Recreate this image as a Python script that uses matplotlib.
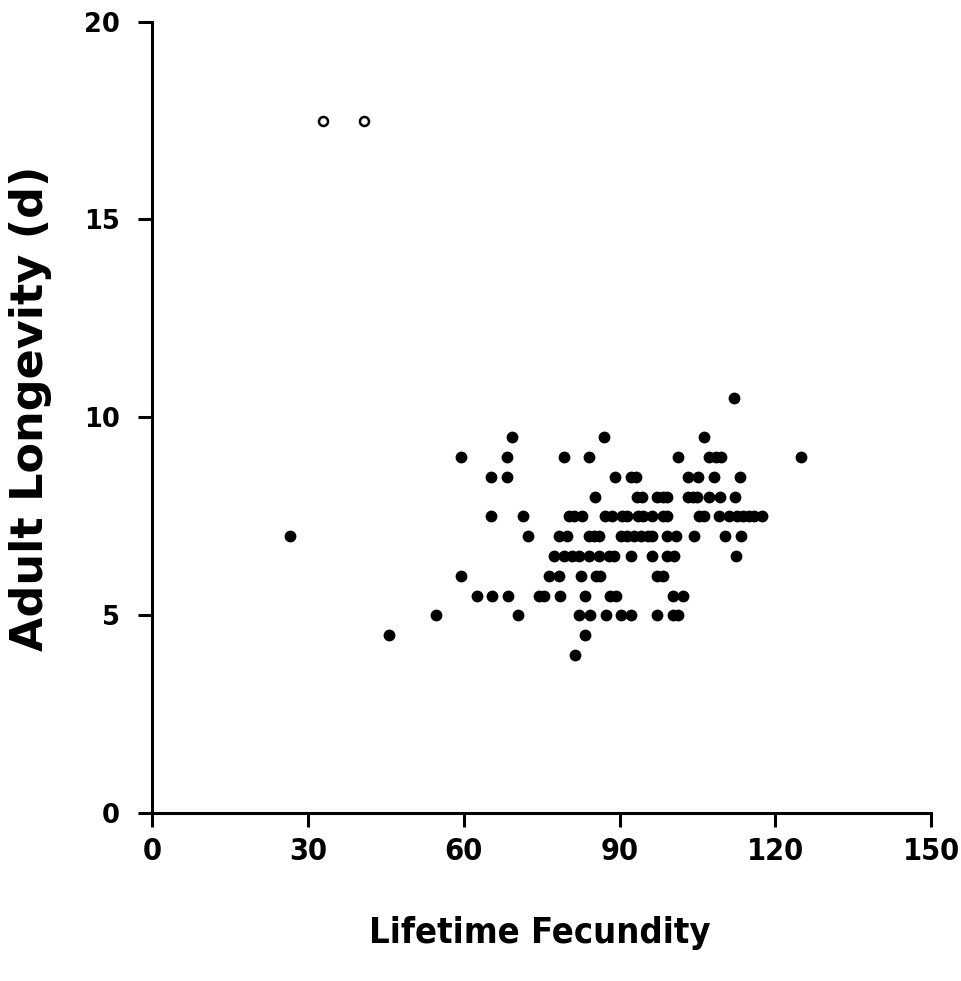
import numpy as np
import matplotlib.pyplot as plt

# Lifetime fecundity (x) grouped by adult longevity (y)
rows = {
    4.0: [81.4],
    4.5: [45.6, 83.3],
    5.0: [54.6, 70.5, 82.2, 84.3, 87.3, 90.2, 92.2, 97.3, 100.2, 101.2],
    5.5: [62.5, 65.5, 68.6, 74.5, 75.4, 78.5, 83.3, 88.2, 89.3, 100.2, 102.3],
    6.0: [59.5, 76.4, 78.3, 82.5, 85.4, 86.2, 97.3, 98.3],
    6.5: [77.4, 79.3, 80.9, 82.2, 84.1, 86.0, 88.0, 88.9, 92.2, 96.3, 99.2,
          100.5, 112.4],
    7.0: [26.5, 72.4, 78.3, 79.8, 84.1, 85.1, 86.0, 90.2, 91.5, 92.8, 94.1,
          95.4, 96.3, 99.2, 100.8, 104.4, 110.3, 113.4],
    7.5: [65.3, 71.4, 80.3, 81.2, 82.8, 87.2, 88.5, 90.4, 91.4, 93.5, 94.6,
          96.2, 98.3, 99.2, 105.3, 106.3, 109.2, 111.1, 112.7, 113.7, 115.0,
          115.9, 117.5],
    8.0: [85.2, 93.4, 94.4, 97.3, 98.3, 99.2, 103.1, 104.1, 105.0, 107.3,
          109.3, 112.3],
    8.5: [65.3, 68.4, 89.1, 92.3, 93.2, 103.1, 105.2, 108.2, 113.2],
    9.0: [59.4, 68.4, 79.3, 84.2, 101.2, 107.3, 108.5, 109.5, 124.9],
    9.5: [69.3, 87.1, 106.2],
    10.5: [112.1],
}

# the two outliers drawn as open circles
open_x = [32.9, 40.9]
open_y = [17.5, 17.5]

fx = np.concatenate([rows[k] for k in rows])
fy = np.concatenate([[k] * len(rows[k]) for k in rows])

fig = plt.figure(figsize=(9.62, 9.81), dpi=100)
ax = fig.add_axes([0.158, 0.171, 0.81, 0.807])

ax.plot(fx, fy, 'o', color='black', markersize=8.5, markeredgewidth=0)
ax.plot(open_x, open_y, 'o', markerfacecolor='white', markeredgecolor='black',
        markersize=6.5, markeredgewidth=1.8)

ax.set_xlim(0, 150)
ax.set_ylim(0, 20)
ax.set_xticks([0, 30, 60, 90, 120, 150])
ax.set_yticks([0, 5, 10, 15, 20])

for s in ['top', 'right']:
    ax.spines[s].set_visible(False)
for s in ['left', 'bottom']:
    ax.spines[s].set_linewidth(2.2)

ax.tick_params(direction='out', length=10, width=2.2)
ax.tick_params(axis='x', pad=7)
ax.tick_params(axis='y', pad=13)
for lab in ax.get_xticklabels():
    lab.set_fontfamily('DejaVu Sans')
    lab.set_fontstretch('condensed')
    lab.set_fontweight('bold')
    lab.set_fontsize(22)
for lab in ax.get_yticklabels():
    lab.set_fontfamily('DejaVu Sans')
    lab.set_fontweight('bold')
    lab.set_fontsize(18.5)

ax.set_xlabel('Lifetime Fecundity', family='DejaVu Sans',
              fontstretch='condensed', fontsize=26, fontweight='bold')
ax.xaxis.set_label_coords(0.498, -0.13)
ax.set_ylabel('Adult Longevity (d)', family='DejaVu Sans', fontsize=32,
              fontweight='bold')
ax.yaxis.set_label_coords(-0.128, 0.512)

fig.savefig('out.png', dpi=100)
